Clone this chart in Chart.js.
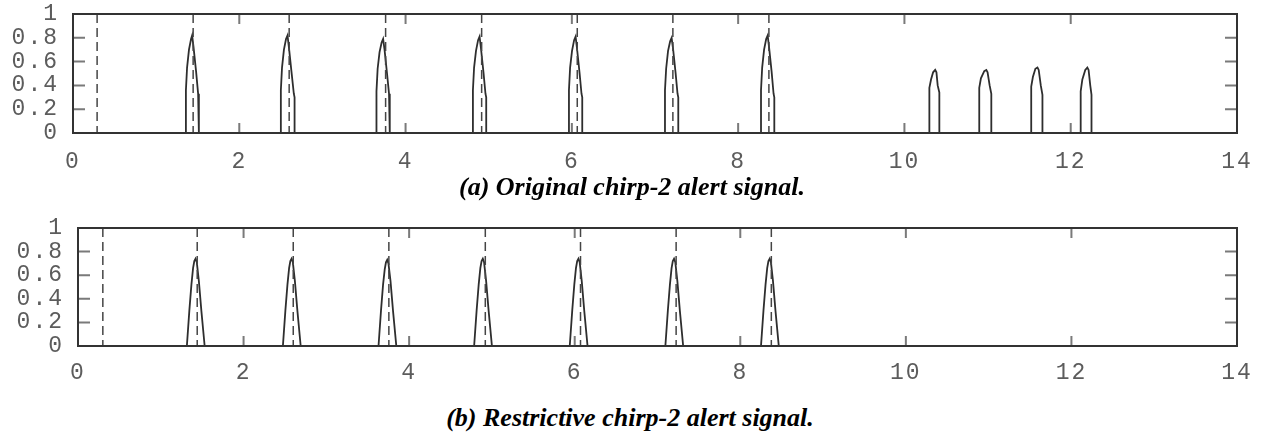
<!DOCTYPE html>
<html>
<head>
<meta charset="utf-8">
<script src="https://cdn.jsdelivr.net/npm/chart.js@4.4.0/dist/chart.umd.min.js"></script>
<style>
  html, body { margin: 0; padding: 0; background: #fff; }
  body { width: 1264px; height: 433px; position: relative; overflow: hidden; }
  .panel { position: absolute; left: 0; width: 1264px; }
  #panelA { top: 0; height: 178px; }
  #panelB { top: 210px; height: 180px; }
  .caption {
    position: absolute;
    font-family: 'Liberation Serif', 'Times New Roman', serif;
    font-weight: bold;
    font-style: italic;
    font-size: 26px;
    line-height: 30px;
    color: #000;
    white-space: nowrap;
    transform: translateX(-50%);
  }
</style>
</head>
<body>
<div class="panel" id="panelA"><canvas id="chartA"></canvas></div>
<div class="caption" style="left:632px; top:172px;">(a) Original chirp-2 alert signal.</div>
<div class="panel" id="panelB"><canvas id="chartB"></canvas></div>
<div class="caption" style="left:630px; top:403px;">(b) Restrictive chirp-2 alert signal.</div>

<script>
// Axis ticks (shared by both panels)
const xTickValues = [0, 2, 4, 6, 8, 10, 12, 14];
const yTickValues = [0, 0.2, 0.4, 0.6, 0.8, 1];

// (a) original signal: seven tall bursts, then four weaker ones
const origSignalX = [
  0,
  1.358, 1.358, 1.372, 1.395, 1.42, 1.433, 1.45, 1.48, 1.505, 1.514, 1.514,
  2.5, 2.5, 2.514, 2.537, 2.562, 2.58, 2.597, 2.627, 2.656, 2.665, 2.665,
  3.65, 3.65, 3.664, 3.687, 3.712, 3.73, 3.747, 3.777, 3.801, 3.81, 3.81,
  4.81, 4.81, 4.824, 4.847, 4.872, 4.89, 4.907, 4.937, 4.961, 4.97, 4.97,
  5.965, 5.965, 5.979, 6.002, 6.027, 6.045, 6.062, 6.092, 6.116, 6.125, 6.125,
  7.12, 7.12, 7.134, 7.157, 7.182, 7.2, 7.217, 7.247, 7.271, 7.28, 7.28,
  8.275, 8.275, 8.289, 8.312, 8.337, 8.355, 8.372, 8.402, 8.426, 8.435, 8.435,
  10.3, 10.3, 10.32, 10.345, 10.37, 10.385, 10.4, 10.42, 10.42,
  10.9, 10.9, 10.92, 10.96, 10.985, 11.0, 11.025, 11.045, 11.045,
  11.525, 11.525, 11.545, 11.575, 11.6, 11.615, 11.64, 11.66, 11.66,
  12.12, 12.12, 12.14, 12.175, 12.2, 12.215, 12.235, 12.25, 12.25,
  14
];
const origSignalY = [
  0,
  0, 0.36, 0.55, 0.70, 0.79, 0.82, 0.72, 0.52, 0.33, 0.30, 0,
  0, 0.36, 0.55, 0.70, 0.79, 0.82, 0.72, 0.52, 0.33, 0.30, 0,
  0, 0.35, 0.54, 0.68, 0.76, 0.79, 0.70, 0.50, 0.33, 0.30, 0,
  0, 0.36, 0.55, 0.69, 0.78, 0.81, 0.71, 0.51, 0.33, 0.30, 0,
  0, 0.36, 0.55, 0.69, 0.78, 0.81, 0.71, 0.51, 0.33, 0.30, 0,
  0, 0.36, 0.54, 0.69, 0.77, 0.80, 0.71, 0.51, 0.33, 0.30, 0,
  0, 0.36, 0.55, 0.70, 0.79, 0.82, 0.72, 0.52, 0.33, 0.30, 0,
  0, 0.38, 0.45, 0.51, 0.53, 0.51, 0.40, 0.34, 0,
  0, 0.38, 0.46, 0.52, 0.53, 0.51, 0.40, 0.33, 0,
  0, 0.39, 0.47, 0.54, 0.55, 0.53, 0.40, 0.32, 0,
  0, 0.35, 0.45, 0.53, 0.55, 0.53, 0.40, 0.32, 0,
  0
];
const origMarkerX = [0.29, 1.445, 2.6, 3.76, 4.915, 6.065, 7.215, 8.37];

// (b) restrictive signal: only the seven main bursts, smoothed
const restSignalX = [
  0,
  1.315, 1.345, 1.37, 1.39, 1.405, 1.42, 1.435, 1.46, 1.49, 1.53,
  2.475, 2.505, 2.53, 2.55, 2.565, 2.58, 2.595, 2.62, 2.65, 2.69,
  3.63, 3.66, 3.685, 3.705, 3.72, 3.735, 3.75, 3.775, 3.805, 3.845,
  4.785, 4.815, 4.84, 4.86, 4.875, 4.89, 4.905, 4.93, 4.96, 5.0,
  5.94, 5.97, 5.995, 6.015, 6.03, 6.045, 6.06, 6.085, 6.115, 6.155,
  7.095, 7.125, 7.15, 7.17, 7.185, 7.2, 7.215, 7.24, 7.27, 7.31,
  8.25, 8.28, 8.305, 8.325, 8.34, 8.355, 8.37, 8.395, 8.425, 8.465,
  14
];
const restSignalY = [
  0,
  0, 0.30, 0.52, 0.66, 0.72, 0.74, 0.71, 0.55, 0.30, 0,
  0, 0.30, 0.52, 0.66, 0.72, 0.74, 0.71, 0.55, 0.30, 0,
  0, 0.30, 0.52, 0.65, 0.71, 0.73, 0.70, 0.55, 0.30, 0,
  0, 0.30, 0.52, 0.66, 0.72, 0.74, 0.71, 0.55, 0.30, 0,
  0, 0.30, 0.52, 0.66, 0.72, 0.74, 0.71, 0.55, 0.30, 0,
  0, 0.30, 0.52, 0.66, 0.72, 0.74, 0.71, 0.55, 0.30, 0,
  0, 0.30, 0.52, 0.66, 0.72, 0.74, 0.71, 0.55, 0.30, 0,
  0
];
const restMarkerX = [0.3, 1.44, 2.6, 3.755, 4.92, 6.07, 7.225, 8.375];

const tickFont = { family: "'Liberation Mono', 'DejaVu Sans Mono', monospace", size: 23 };
const tickColor = '#5c5c5c';

// Frame around the plot plus gnuplot-style inward tick marks
const frameTicks = {
    id: 'frameTicks',
    beforeDraw(chart) {
        // wide monospace look for the tick labels
        chart.ctx.letterSpacing = '2px';
    },
    afterDatasetsDraw(chart) {
        const { ctx, chartArea: a, scales: { x, y } } = chart;
        ctx.save();
        ctx.letterSpacing = '0px';
        ctx.strokeStyle = '#7a7a7a';
        ctx.lineWidth = 2;
        ctx.beginPath();
        x.ticks.forEach(t => {
            if (t.value <= x.min || t.value >= x.max) return;
            const px = x.getPixelForValue(t.value);
            ctx.moveTo(px, a.bottom);
            ctx.lineTo(px, a.bottom - 10);
            ctx.moveTo(px, a.top);
            ctx.lineTo(px, a.top + 10);
        });
        y.ticks.forEach(t => {
            if (t.value <= y.min || t.value >= y.max) return;
            const py = y.getPixelForValue(t.value);
            ctx.moveTo(a.left, py);
            ctx.lineTo(a.left + 12, py);
            ctx.moveTo(a.right, py);
            ctx.lineTo(a.right - 12, py);
        });
        ctx.stroke();
        ctx.strokeStyle = '#333';
        ctx.lineWidth = 2;
        ctx.strokeRect(a.left, a.top, a.right - a.left, a.bottom - a.top);
        ctx.restore();
    }
};

// keep the plot box exactly where the layout padding puts it
const noOverflow = s => {
    s.paddingTop = 0;
    s.paddingBottom = 0;
    s.paddingLeft = 0;
    s.paddingRight = 0;
};

const makeChart = (canvasId, signalX, signalY, markerX, box) => {
    const signal = signalX.map((x, i) => ({ x, y: signalY[i] }));
    const markers = markerX.map(x => ({
        data: [{ x, y: 1 }, { x, y: 0 }],
        borderColor: '#454545',
        borderWidth: 1.5,
        borderDash: [9, 5],
        pointRadius: 0,
        showLine: true
    }));

    return new Chart(document.getElementById(canvasId), {
        type: 'scatter',
        data: {
            datasets: [
                ...markers,
                {
                    data: signal,
                    borderColor: '#2e2e2e',
                    borderWidth: 1.8,
                    pointRadius: 0,
                    showLine: true,
                    tension: 0,
                    fill: false
                }
            ]
        },
        options: {
            responsive: true,
            maintainAspectRatio: false,
            animation: false,
            layout: { padding: { top: box.top, right: 1264 - box.right, left: 0, bottom: 0 } },
            plugins: { legend: { display: false }, tooltip: { enabled: false } },
            scales: {
                x: {
                    type: 'linear',
                    min: 0,
                    max: 14,
                    afterBuildTicks: s => { s.ticks = xTickValues.map(v => ({ value: v })); },
                    afterFit: s => { noOverflow(s); s.height = box.height - box.bottom; },
                    grid: { display: false, drawTicks: false },
                    border: { display: false },
                    ticks: { font: tickFont, color: tickColor, padding: box.xPad, maxRotation: 0, autoSkip: false }
                },
                y: {
                    min: 0,
                    max: 1,
                    afterBuildTicks: s => { s.ticks = yTickValues.map(v => ({ value: v })); },
                    afterFit: s => { noOverflow(s); s.width = box.left; },
                    grid: { display: false, drawTicks: false },
                    border: { display: false },
                    ticks: {
                        font: tickFont,
                        color: tickColor,
                        padding: 14,
                        autoSkip: false,
                        callback: v => (v === 0 || v === 1) ? String(v) : v.toFixed(1)
                    }
                }
            }
        },
        plugins: [frameTicks]
    });
};

makeChart('chartA', origSignalX, origSignalY, origMarkerX,
    { left: 73, right: 1237, top: 14, bottom: 133, height: 178, xPad: 15 });
makeChart('chartB', restSignalX, restSignalY, restMarkerX,
    { left: 78, right: 1237, top: 18, bottom: 136, height: 180, xPad: 13 });
</script>
</body>
</html>
